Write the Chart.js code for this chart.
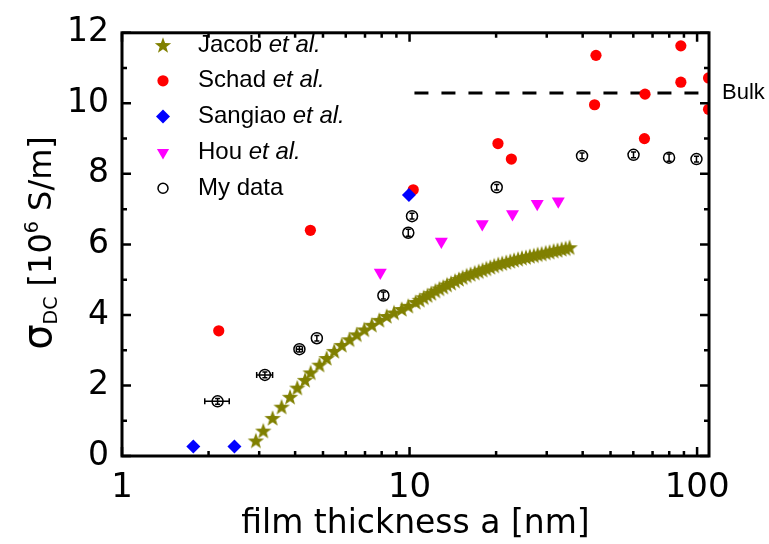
<!DOCTYPE html>
<html>
<head>
<meta charset="utf-8">
<title>DC conductivity vs film thickness</title>
<script src="https://cdn.jsdelivr.net/npm/chart.js@4.4.1/dist/chart.umd.min.js"></script>
<style>
  html, body { margin: 0; padding: 0; background: #fff; }
  #chart { display: block; }
</style>
</head>
<body>
<canvas id="chart" width="769" height="544"></canvas>
<script>
// Jacob et al. (olive stars)
const jacobX = [2.92, 3.10, 3.34, 3.59, 3.84, 4.07, 4.33, 4.53, 4.86, 5.15, 5.47, 5.81, 6.18, 6.55,
  6.96, 7.39, 7.85, 8.33, 8.83, 9.39, 9.9, 10.5, 10.85, 11.2, 11.55, 11.9, 12.3, 12.7, 13.1, 13.5,
  13.95, 14.4, 14.85, 15.3, 15.8, 16.3, 16.85, 17.4, 17.95, 18.5, 19.1, 19.7, 20.35, 21.0, 21.7,
  22.4, 23.1, 23.85, 24.6, 25.4, 26.2, 27.05, 27.9, 28.8, 29.75, 30.7, 31.7, 32.7, 33.8, 34.9, 36.0];
const jacobY = [0.44, 0.72, 1.08, 1.40, 1.68, 1.94, 2.16, 2.37, 2.59, 2.78, 2.98, 3.15, 3.31, 3.45,
  3.59, 3.72, 3.86, 3.97, 4.07, 4.17, 4.26, 4.37, 4.43, 4.50, 4.56, 4.62, 4.69, 4.75, 4.80, 4.86,
  4.91, 4.97, 5.02, 5.07, 5.12, 5.16, 5.20, 5.24, 5.28, 5.32, 5.36, 5.40, 5.44, 5.47, 5.50,
  5.53, 5.56, 5.59, 5.62, 5.64, 5.67, 5.69, 5.72, 5.74, 5.77, 5.79, 5.82, 5.84, 5.87, 5.89, 5.92];

// Schad et al. (red circles)
const schadX = [2.17, 4.52, 10.3, 20.3, 22.6, 44.5, 44.0, 65.9, 65.6, 87.8, 87.8, 109.6, 109.6];
const schadY = [3.55, 6.40, 7.55, 8.86, 8.42, 11.36, 9.96, 10.26, 9.00, 11.63, 10.60, 10.72, 9.83];

// Sangiao et al. (blue diamonds)
const sangiaoX = [1.77, 2.46, 9.95];
const sangiaoY = [0.27, 0.27, 7.40];

// Hou et al. (magenta triangles)
const houX = [7.91, 12.9, 17.9, 22.8, 27.8, 32.9];
const houY = [5.20, 6.08, 6.58, 6.86, 7.15, 7.22];

// My data (open circles with error bars)
const myX = [2.15, 3.14, 4.14, 4.76, 8.11, 9.9, 10.2, 20.1, 39.8, 60.1, 79.9, 99.5];
const myY = [1.55, 2.30, 3.03, 3.34, 4.55, 6.33, 6.80, 7.62, 8.51, 8.54, 8.46, 8.42];
const myXErr = [0.21, 0.20, 0.10, 0, 0, 0, 0, 0, 0, 0, 0, 0];
const myYErr = [0.08, 0.08, 0.08, 0.08, 0.10, 0.10, 0.08, 0.08, 0.08, 0.08, 0.10, 0.08];

// Bulk reference line
const bulkX = [10.4, 110];
const bulkY = [10.29, 10.29];

// Axes
const xMajorTicks = [1, 10, 100];
const xMinorTicks = [2, 3, 4, 5, 6, 7, 8, 9, 20, 30, 40, 50, 60, 70, 80, 90];
const yMajorTicks = [0, 2, 4, 6, 8, 10, 12];
const yMinorTicks = [1, 3, 5, 7, 9, 11];

const legendItems = [
    { name: 'Jacob ', italic: 'et al.' },
    { name: 'Schad ', italic: 'et al.' },
    { name: 'Sangiao ', italic: 'et al.' },
    { name: 'Hou ', italic: 'et al.' },
    { name: 'My data', italic: '' }
];

function toPoints(xs, ys) {
    return xs.map((x, i) => ({ x: x, y: ys[i] }));
}

// filled five-pointed star used as point image
function makeStar(outer, inner, color) {
    const size = Math.ceil(outer * 2 + 2);
    const c = document.createElement('canvas');
    c.width = size;
    c.height = size;
    const g = c.getContext('2d');
    g.fillStyle = color;
    g.beginPath();
    for (let i = 0; i < 10; i++) {
        const r = i % 2 === 0 ? outer : inner;
        const a = -Math.PI / 2 + i * Math.PI / 5;
        const px = size / 2 + r * Math.cos(a);
        const py = size / 2 + r * Math.sin(a) + 0.8;
        if (i === 0) g.moveTo(px, py); else g.lineTo(px, py);
    }
    g.closePath();
    g.fill();
    return c;
}

const starImg = makeStar(8.6, 3.5, '#808000');

const MAIN_FONT = 'DejaVu Sans';

// frame with inward ticks on all four sides
const frameAndTicks = {
    id: 'frameAndTicks',
    afterDraw(chart) {
        const { ctx, chartArea: a, scales: { x, y } } = chart;
        ctx.save();
        ctx.strokeStyle = '#000';
        ctx.lineWidth = 2.5;
        ctx.beginPath();
        const xt = (vals, len) => vals.forEach(v => {
            const px = x.getPixelForValue(v);
            ctx.moveTo(px, a.bottom); ctx.lineTo(px, a.bottom - len);
            ctx.moveTo(px, a.top); ctx.lineTo(px, a.top + len);
        });
        const yt = (vals, len) => vals.forEach(v => {
            const py = y.getPixelForValue(v);
            ctx.moveTo(a.left, py); ctx.lineTo(a.left + len, py);
            ctx.moveTo(a.right, py); ctx.lineTo(a.right - len, py);
        });
        xt(xMajorTicks, 9);
        xt(xMinorTicks, 5);
        yt(yMajorTicks, 9);
        yt(yMinorTicks, 5);
        ctx.stroke();
        ctx.lineWidth = 3;
        ctx.strokeRect(a.left, a.top, a.right - a.left, a.bottom - a.top);
        ctx.restore();
    }
};

// error bars for "My data"
const errorBars = {
    id: 'errorBars',
    afterDatasetsDraw(chart) {
        const { ctx, scales: { x, y } } = chart;
        ctx.save();
        ctx.strokeStyle = '#000';
        ctx.lineWidth = 1.5;
        ctx.beginPath();
        myX.forEach((v, i) => {
            const px = x.getPixelForValue(v);
            const py = y.getPixelForValue(myY[i]);
            if (myXErr[i] > 0) {
                const x0 = x.getPixelForValue(v - myXErr[i]);
                const x1 = x.getPixelForValue(v + myXErr[i]);
                ctx.moveTo(x0, py); ctx.lineTo(x1, py);
                ctx.moveTo(x0, py - 3); ctx.lineTo(x0, py + 3);
                ctx.moveTo(x1, py - 3); ctx.lineTo(x1, py + 3);
            }
            if (myYErr[i] > 0) {
                const y0 = y.getPixelForValue(myY[i] - myYErr[i]);
                const y1 = y.getPixelForValue(myY[i] + myYErr[i]);
                ctx.moveTo(px, y0); ctx.lineTo(px, y1);
                ctx.moveTo(px - 2.5, y0); ctx.lineTo(px + 2.5, y0);
                ctx.moveTo(px - 2.5, y1); ctx.lineTo(px + 2.5, y1);
            }
        });
        ctx.stroke();
        ctx.restore();
    }
};

// legend, y title and "Bulk" label
const annotations = {
    id: 'annotations',
    afterDraw(chart) {
        const { ctx, scales: { x, y } } = chart;
        ctx.save();

        // legend
        const styles = chart.data.datasets.slice(0, 5);
        legendItems.forEach((item, i) => {
            const ly = 45 + i * 35.8;
            const ds = styles[i];
            ctx.fillStyle = ds.pointBackgroundColor || '#000';
            ctx.strokeStyle = ds.pointBorderColor || '#000';
            ctx.lineWidth = ds.pointBorderWidth || 0;
            Chart.helpers.drawPoint(ctx, {
                pointStyle: ds.pointStyle,
                rotation: ds.pointRotation || 0,
                radius: ds.legendRadius,
                borderWidth: ds.pointBorderWidth || 0
            }, 163, ly);
            ctx.fillStyle = '#000';
            ctx.textBaseline = 'middle';
            ctx.textAlign = 'left';
            ctx.font = '24px "Liberation Sans"';
            ctx.fillText(item.name, 198, ly);
            const w = ctx.measureText(item.name).width;
            if (item.italic) {
                ctx.font = 'italic 24px "Liberation Sans"';
                ctx.fillText(item.italic, 198 + w, ly);
            }
        });

        // Bulk label
        ctx.font = '22px "Liberation Sans"';
        ctx.fillStyle = '#000';
        ctx.textBaseline = 'middle';
        ctx.fillText('Bulk', x.right + 13, y.getPixelForValue(bulkY[0]));

        // y axis title with sub- and superscript
        const parts = [
            { t: '\u03C3', f: '40px "' + MAIN_FONT + '"', dy: 0 },
            { t: 'DC', f: '19px "' + MAIN_FONT + '"', dy: 6 },
            { t: ' [10', f: '32px "' + MAIN_FONT + '"', dy: 0 },
            { t: '6', f: '19px "' + MAIN_FONT + '"', dy: -13 },
            { t: ' S/m]', f: '32px "' + MAIN_FONT + '"', dy: 0 }
        ];
        let total = 0;
        parts.forEach(p => { ctx.font = p.f; p.w = ctx.measureText(p.t).width; total += p.w; });
        ctx.translate(51, 243);
        ctx.rotate(-Math.PI / 2);
        ctx.textBaseline = 'alphabetic';
        let cx = -total / 2;
        parts.forEach(p => {
            ctx.font = p.f;
            ctx.fillText(p.t, cx, p.dy);
            cx += p.w;
        });
        ctx.restore();
    }
};

const ctx = document.getElementById('chart').getContext('2d');

new Chart(ctx, {
    type: 'scatter',
    data: {
        datasets: [
            {
                label: 'Jacob et al.',
                data: toPoints(jacobX, jacobY),
                pointStyle: starImg,
                pointRadius: 8,
                legendRadius: 8,
                order: 4
            },
            {
                label: 'Schad et al.',
                data: toPoints(schadX, schadY),
                pointStyle: 'circle',
                pointBackgroundColor: '#ff0000',
                pointBorderWidth: 0,
                pointRadius: 5.6,
                legendRadius: 5.6,
                order: 3,
                clip: 0
            },
            {
                label: 'Sangiao et al.',
                data: toPoints(sangiaoX, sangiaoY),
                pointStyle: 'rectRot',
                pointBackgroundColor: '#0000ff',
                pointBorderWidth: 0,
                pointRadius: 7,
                legendRadius: 7,
                order: 0
            },
            {
                label: 'Hou et al.',
                data: toPoints(houX, houY),
                pointStyle: 'triangle',
                pointRotation: 180,
                pointBackgroundColor: '#ff00ff',
                pointBorderWidth: 0,
                pointRadius: 7.5,
                legendRadius: 7,
                order: 1
            },
            {
                label: 'My data',
                data: toPoints(myX, myY),
                pointStyle: 'circle',
                pointBackgroundColor: 'rgba(255,255,255,0)',
                pointBorderColor: '#000',
                pointBorderWidth: 1.5,
                pointRadius: 5.5,
                legendRadius: 5,
                order: 2
            },
            {
                type: 'line',
                label: 'Bulk',
                data: toPoints(bulkX, bulkY),
                borderColor: '#000',
                borderWidth: 3,
                borderDash: [14, 13],
                pointRadius: 0,
                fill: false,
                order: 5
            }
        ]
    },
    options: {
        responsive: false,
        animation: false,
        devicePixelRatio: 1,
        layout: { padding: { top: 20, right: 60, left: 0, bottom: 0 } },
        plugins: {
            legend: { display: false },
            tooltip: { enabled: false }
        },
        scales: {
            x: {
                type: 'logarithmic',
                min: 1,
                max: 110,
                afterBuildTicks: scale => {
                    scale.ticks = xMajorTicks.map(v => ({ value: v, major: true }));
                },
                afterFit: scale => { scale.height = 88; },
                grid: { display: false, drawTicks: false },
                border: { display: false },
                ticks: {
                    autoSkip: false,
                    maxRotation: 0,
                    padding: 12,
                    color: '#000',
                    font: { family: MAIN_FONT, size: 34 },
                    callback: value => String(value)
                },
                title: {
                    display: true,
                    text: 'film thickness a [nm]',
                    color: '#000',
                    font: { family: MAIN_FONT, size: 33 },
                    padding: { top: 0, bottom: 0 }
                }
            },
            y: {
                type: 'linear',
                min: 0,
                max: 12,
                afterFit: scale => { scale.width = 122; },
                grid: { display: false, drawTicks: false },
                border: { display: false },
                ticks: {
                    stepSize: 2,
                    padding: 13,
                    color: '#000',
                    font: { family: MAIN_FONT, size: 33 }
                }
            }
        }
    },
    plugins: [errorBars, frameAndTicks, annotations]
});
</script>
</body>
</html>
